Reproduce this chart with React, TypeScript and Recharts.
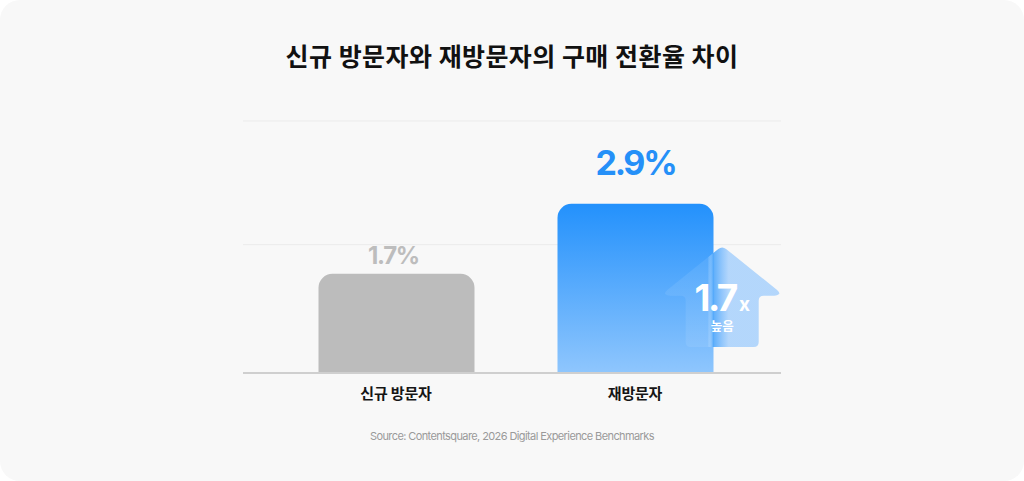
import React from "react";
import { BarChart, Bar, XAxis, YAxis, CartesianGrid, ReferenceLine, Rectangle } from "recharts";

const title = "신규 방문자와 재방문자의 구매 전환율 차이";
const source = "Source: Contentsquare, 2026 Digital Experience Benchmarks";
const categories = ["신규 방문자", "재방문자"];
const rates = [1.7, 2.9];
const valueLabels = ["1.7%", "2.9%"];
const yTicks = [0, 2.2, 4.32];
const multiplier = "1.7";
const multiplierUnit = "x";
const multiplierNote = "높음";

const data = categories.map((name, i) => ({ name, value: rates[i] }));

const FONT = "Inter, 'Noto Sans CJK KR', sans-serif";

function roundedPolygon(pts: [number, number][], r: number) {
  const n = pts.length;
  let d = "";
  for (let i = 0; i < n; i++) {
    const prev = pts[(i - 1 + n) % n];
    const cur = pts[i];
    const next = pts[(i + 1) % n];
    const v1x = prev[0] - cur[0], v1y = prev[1] - cur[1];
    const v2x = next[0] - cur[0], v2y = next[1] - cur[1];
    const l1 = Math.hypot(v1x, v1y), l2 = Math.hypot(v2x, v2y);
    const r1 = Math.min(r, l1 / 2), r2 = Math.min(r, l2 / 2);
    const a = [cur[0] + (v1x / l1) * r1, cur[1] + (v1y / l1) * r1];
    const b = [cur[0] + (v2x / l2) * r2, cur[1] + (v2y / l2) * r2];
    d += (i === 0 ? "M" : "L") + a[0] + "," + a[1] + " Q" + cur[0] + "," + cur[1] + " " + b[0] + "," + b[1] + " ";
  }
  return d + "Z";
}

const Arrow = ({ barX, barY, barW, barH }: any) => {
  const cx = barX + barW + 8.7;
  const tipY = barY + 42;
  const hw = 58.5;
  const sh = 36.5;
  const wingY = tipY + 47;
  const wingB = tipY + 50;
  const bottom = barY + barH - 26;
  const pts: [number, number][] = [
    [cx, tipY],
    [cx + hw, wingY],
    [cx + hw - 4, wingB],
    [cx + sh, wingB],
    [cx + sh, bottom],
    [cx - sh, bottom],
    [cx - sh, wingB],
    [cx - hw + 4, wingB],
    [cx - hw, wingY],
  ];
  const left = cx - hw;
  const span = 2 * hw;
  const edge = (barX + barW - left) / span;
  return (
    <g>
      <defs>
        <linearGradient id="arrowGrad" gradientUnits="userSpaceOnUse" x1={left} x2={left + span} y1={0} y2={0}>
          <stop offset={0} stopColor="#ffffff" stopOpacity={0.08} />
          <stop offset={edge - 0.05} stopColor="#ffffff" stopOpacity={0.08} />
          <stop offset={edge} stopColor="#4da6fb" stopOpacity={0.9} />
          <stop offset={edge + 0.13} stopColor="#6fb5ff" stopOpacity={0.5} />
          <stop offset={1} stopColor="#6fb5ff" stopOpacity={0.5} />
        </linearGradient>
      </defs>
      <path d={roundedPolygon(pts, 5)} fill="url(#arrowGrad)" />
      <text x={cx} y={tipY + 65} textAnchor="middle" fill="#ffffff" fontFamily={FONT} fontWeight={700}>
        <tspan fontSize={37} letterSpacing={-2.5}>{multiplier}</tspan>
        <tspan fontSize={19} dx={3}>{multiplierUnit}</tspan>
      </text>
      <text x={cx} y={tipY + 81} textAnchor="middle" dominantBaseline="central" fill="#ffffff" fontFamily={FONT} fontWeight={600} fontSize={12.5}>
        {multiplierNote}
      </text>
    </g>
  );
};

const BarShape = (props: any) => {
  const { x, y, width, height, index } = props;
  const isReturn = index === 1;
  const cx = x + width / 2;
  return (
    <g>
      <Rectangle x={x} y={y} width={width} height={height} radius={[14, 14, 0, 0]} fill={isReturn ? "url(#blueGrad)" : "#bcbcbc"} />
      {isReturn ? (
        <text x={cx} y={y - 41} textAnchor="middle" dominantBaseline="central" fontFamily={FONT} fontWeight={700} fontSize={34} letterSpacing={-2.2} fill="#2590f8">
          {valueLabels[index]}
        </text>
      ) : (
        <text x={cx - 3} y={y - 18} textAnchor="middle" dominantBaseline="central" fontFamily={FONT} fontWeight={700} fontSize={24} letterSpacing={-1.3} fill="#bdbdbd">
          {valueLabels[index]}
        </text>
      )}
      {isReturn && <Arrow barX={x} barY={y} barW={width} barH={height} />}
    </g>
  );
};

const CategoryTick = (props: any) => (
  <text x={props.x} y={props.y} dy={12} textAnchor="middle" dominantBaseline="central" fontFamily={FONT} fontWeight={700} fontSize={15} letterSpacing={-0.2} fill="#151515">
    {props.payload.value}
  </text>
);

export default function App() {
  return (
    <div style={{ position: "absolute", left: 0, top: 0, width: 1024, height: 481, background: "#ffffff" }}>
      <div style={{ position: "absolute", left: 0, top: 0, width: 1024, height: 481, background: "#f8f8f8", borderRadius: 20 }} />
      <div
        style={{
          position: "absolute",
          left: 0,
          top: 42,
          width: 1024,
          height: 30,
          lineHeight: "30px",
          textAlign: "center",
          fontFamily: FONT,
          fontWeight: 700,
          fontSize: 25,
          letterSpacing: 0.4,
          color: "#111111",
        }}
      >
        {title}
      </div>
      <div style={{ position: "absolute", left: 0, top: 0 }}>
        <BarChart width={1024} height={481} data={data} margin={{ top: 121, right: 243, bottom: 78, left: 243 }}>
          <defs>
            <linearGradient id="blueGrad" x1="0" y1="0" x2="0" y2="1">
              <stop offset="0%" stopColor="#2391fc" />
              <stop offset="100%" stopColor="#8fc6fd" />
            </linearGradient>
          </defs>
          <CartesianGrid vertical={false} stroke="#ebebeb" />
          <YAxis hide domain={[0, 4.32]} ticks={yTicks} />
          <XAxis
            dataKey="name"
            axisLine={false}
            tickLine={false}
            height={30}
            padding={{ left: 33.5, right: 26.5 }}
            tick={<CategoryTick />}
            interval={0}
          />
          <Bar dataKey="value" barSize={156} isAnimationActive={false} shape={<BarShape />} />
          <ReferenceLine y={0} stroke="#cfcfcf" strokeWidth={2} />
        </BarChart>
      </div>
      <div
        style={{
          position: "absolute",
          left: 0,
          top: 426,
          width: 1024,
          height: 20,
          lineHeight: "20px",
          textAlign: "center",
          fontFamily: FONT,
          fontSize: 11,
          letterSpacing: -0.6,
          color: "#9a9a9a",
        }}
      >
        {source}
      </div>
    </div>
  );
}
